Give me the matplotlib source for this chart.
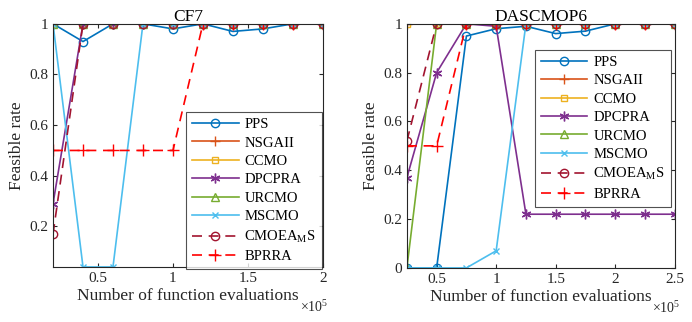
import numpy as np
import matplotlib
matplotlib.use('Agg')
import matplotlib.pyplot as plt

plt.rcParams['font.family'] = 'Liberation Serif'
plt.rcParams['mathtext.fontset'] = 'custom'
plt.rcParams['mathtext.rm'] = 'Liberation Serif'
plt.rcParams['mathtext.it'] = 'Liberation Serif:italic'

algorithms = ['PPS', 'NSGAII', 'CCMO', 'DPCPRA', 'URCMO', 'MSCMO',
              'CMOEA$_\\mathrm{M}$S', 'BPRRA']

# CF7 feasible rate
cf7_evals = [0.2, 0.4, 0.6, 0.8, 1.0, 1.2, 1.4, 1.6, 1.8, 2.0]
cf7_rates = [
  [1, 0.93, 1, 1, 0.98, 1, 0.97, 0.98, 1, 1],   # PPS
  [1, 1, 1, 1, 1, 1, 1, 1, 1, 1],               # NSGAII
  [1, 1, 1, 1, 1, 1, 1, 1, 1, 1],               # CCMO
  [0.29, 1, 1, 1, 1, 1, 1, 1, 1, 1],            # DPCPRA
  [1, 1, 1, 1, 1, 1, 1, 1, 1, 1],               # URCMO
  [1, 0.04, 0.04, 1, 1, 1, 1, 1, 1, 1],         # MSCMO
  [0.17, 1, 1, 1, 1, 1, 1, 1, 1, 1],            # CMOEA_MS
  [0.5, 0.5, 0.5, 0.5, 0.5, 1, 1, 1, 1, 1],     # BPRRA
]

# DASCMOP6 feasible rate
das_evals = [0.25, 0.5, 0.75, 1.0, 1.25, 1.5, 1.75, 2.0, 2.25, 2.5]
das_rates = [
  [0, 0, 0.95, 0.98, 0.99, 0.96, 0.97, 1, 1, 1],          # PPS
  [1, 1, 1, 1, 1, 1, 1, 1, 1, 1],                         # NSGAII
  [1, 1, 1, 1, 1, 1, 1, 1, 1, 1],                         # CCMO
  [0.37, 0.8, 1, 0.99, 0.22, 0.22, 0.22, 0.22, 0.22, 0.22],  # DPCPRA
  [0, 1, 1, 1, 1, 1, 1, 1, 1, 1],                         # URCMO
  [0, 0, 0, 0.07, 1, 1, 1, 1, 1, 1],                      # MSCMO
  [0.52, 1, 1, 1, 1, 1, 1, 1, 1, 1],                      # CMOEA_MS
  [0.5, 0.5, 1, 1, 1, 1, 1, 1, 1, 1],                     # BPRRA
]

colors = ['#0072BD', '#D95319', '#EDB120', '#7E2F8E', '#77AC30', '#4DBEEE',
          '#A2142F', '#FF0000']
# asterisk drawn as a 6-spoke marker, like MATLAB's '*'
markers = ['o', '+', 's', (6, 2, 0), '^', 'x', 'o', '+']
msizes = [6, 7, 4, 7, 6, 5, 6, 8]
styles = ['-', '-', '-', '-', '-', '-', '--', '--']


def draw(ax, x, rates, title, xlim, ylim, xticks, yticks, legend_box):
  for i, name in enumerate(algorithms):
    ax.plot(x, rates[i], color=colors[i], linestyle=styles[i], marker=markers[i],
            markersize=msizes[i], markerfacecolor='none', markeredgewidth=1.0,
            linewidth=1.2, dashes=(6, 4) if styles[i] == '--' else (None, None),
            label=name)
  ax.set_xlim(*xlim)
  ax.set_ylim(*ylim)
  ax.set_xticks(xticks)
  ax.set_xticklabels([('%g' % t) for t in xticks])
  ax.set_yticks(yticks)
  ax.set_yticklabels([('%g' % t) for t in yticks])
  ax.tick_params(direction='in', top=True, right=True, labelsize=11, length=3,
                 colors='#262626', labelcolor='#262626')
  for s in ax.spines.values():
    s.set_color('#262626')
  ax.set_title(title, fontsize=12.5, pad=2)
  ax.set_xlabel('Number of function evaluations', fontsize=12.5, labelpad=2,
                color='#262626')
  ax.set_ylabel('Feasible rate', fontsize=12.5, labelpad=3, color='#262626')
  ax.text(1.02, -0.165, '$\\times$10$^5$', transform=ax.transAxes, fontsize=10,
          ha='right', va='center', color='#262626')
  leg = ax.legend(loc='upper left', bbox_to_anchor=legend_box, fontsize=10.5,
                  frameon=True, fancybox=False, edgecolor='#262626',
                  borderpad=0.4, labelspacing=0.36, handlelength=3.2,
                  handletextpad=0.4, borderaxespad=0)
  leg.get_frame().set_linewidth(0.8)


fig = plt.figure(figsize=(6.92, 3.22), dpi=100)
ax1 = fig.add_axes([0.0766, 0.171, 0.390, 0.755])
ax2 = fig.add_axes([0.588, 0.168, 0.387, 0.758])

draw(ax1, cf7_evals, cf7_rates, 'CF7', (0.2, 2.0), (0.04, 1.0),
     [0.5, 1, 1.5, 2], [0.2, 0.4, 0.6, 0.8, 1], (0.493, 0.637))
draw(ax2, das_evals, das_rates, 'DASCMOP6', (0.25, 2.5), (0, 1.0),
     [0.5, 1, 1.5, 2, 2.5], [0, 0.2, 0.4, 0.6, 0.8, 1], (0.478, 0.894))

fig.savefig('out.png', dpi=100)
